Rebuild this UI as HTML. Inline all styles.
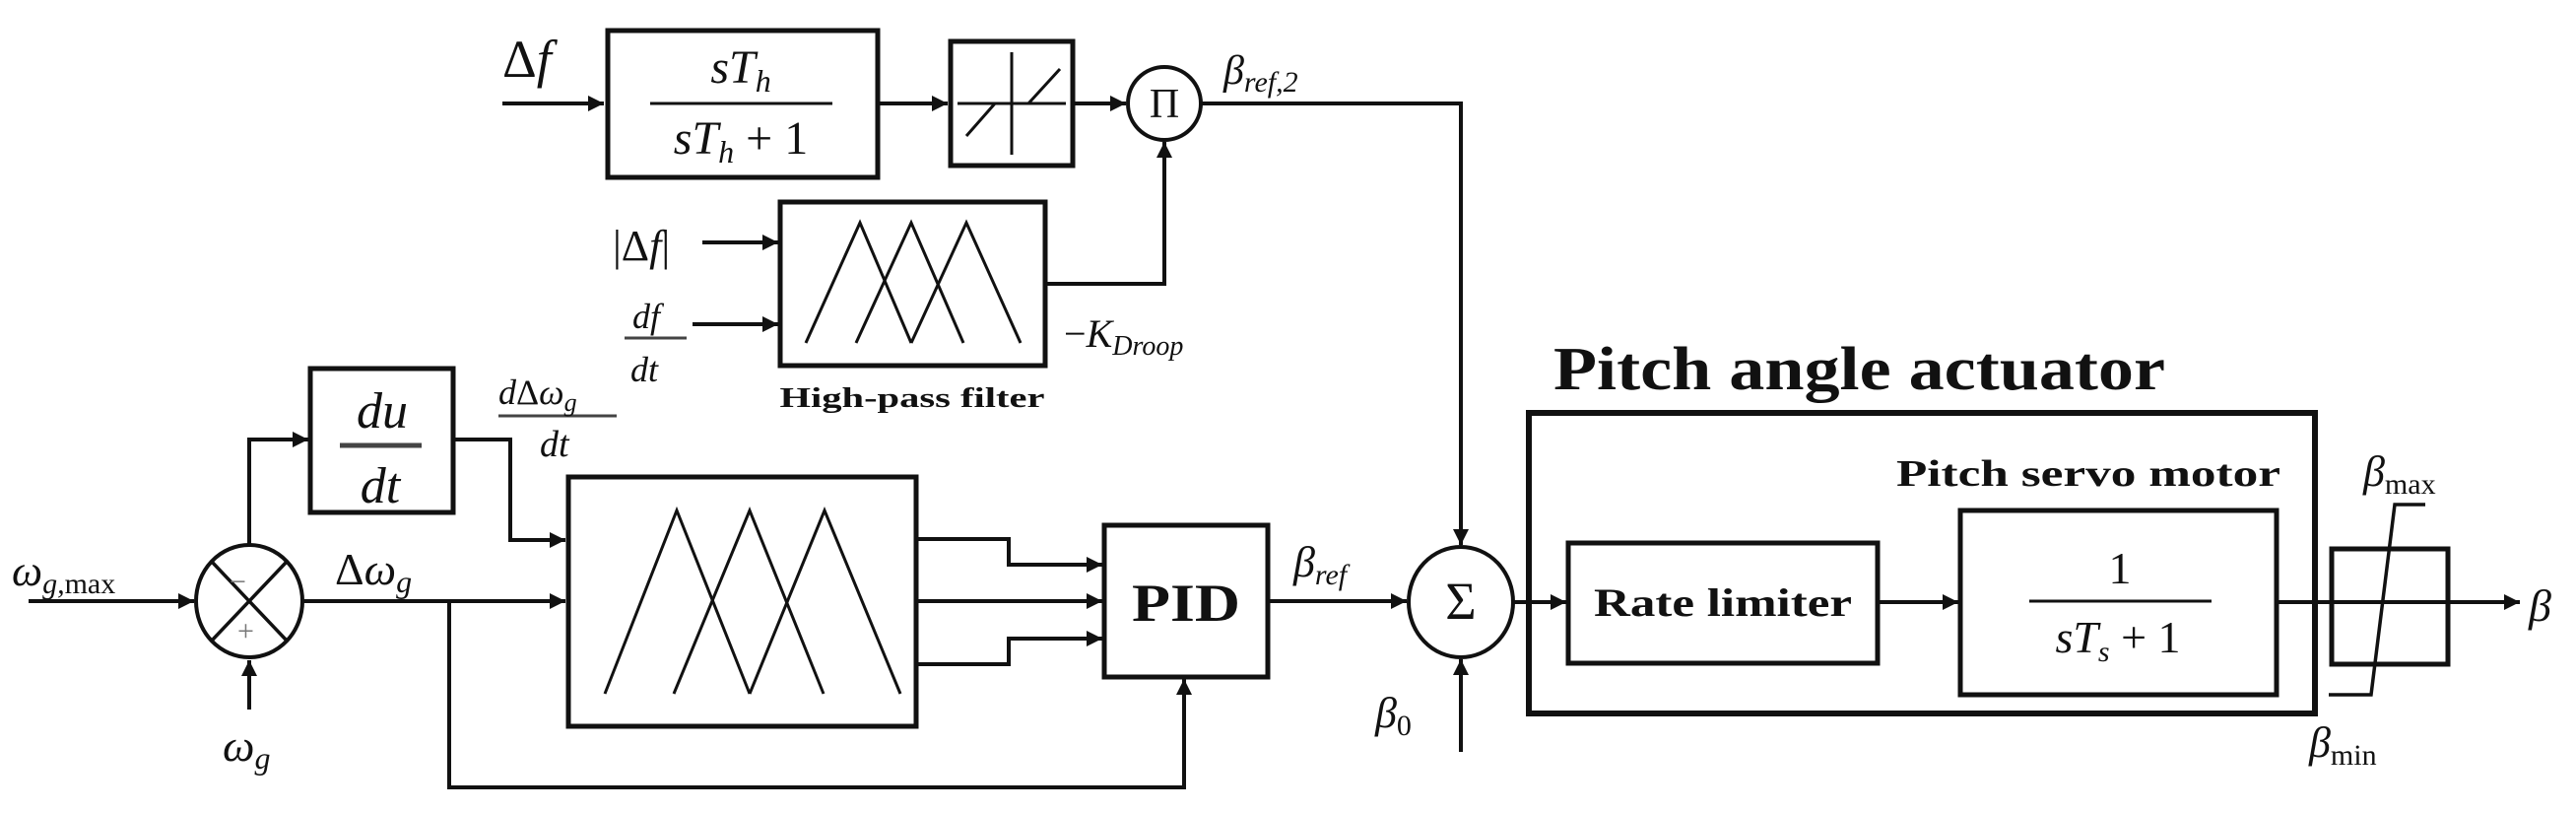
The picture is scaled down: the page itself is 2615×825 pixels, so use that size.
<!DOCTYPE html>
<html><head><meta charset="utf-8"><style>
html,body{margin:0;padding:0;background:#fff;}
svg{display:block}
.m{font-family:"Liberation Serif",serif;font-style:italic;fill:#111}
.r{font-family:"Liberation Serif",serif;fill:#111}
.b{font-family:"Liberation Serif",serif;font-weight:bold;fill:#111}
</style></head><body>
<svg width="2615" height="825" viewBox="0 0 2615 825" xmlns="http://www.w3.org/2000/svg">
<defs>
<marker id="a" viewBox="0 0 10 10" refX="10" refY="5" markerWidth="16" markerHeight="16" markerUnits="userSpaceOnUse" orient="auto"><path d="M0,0 L10,5 L0,10 Z" fill="#111"/></marker>
</defs>
<g stroke="#111" stroke-width="4" fill="none">
<line x1="510" y1="105" x2="613" y2="105" marker-end="url(#a)"/>
<rect x="617" y="31" width="274" height="149" stroke-width="5"/>
<line x1="891" y1="105" x2="962" y2="105" marker-end="url(#a)"/>
<rect x="965" y="42" width="124" height="126" stroke-width="5"/>
<line x1="972" y1="105" x2="1082" y2="105" stroke-width="3"/>
<line x1="1027" y1="53" x2="1027" y2="157" stroke-width="3"/>
<line x1="981" y1="138" x2="1010" y2="105" stroke-width="3"/>
<line x1="1044" y1="105" x2="1076" y2="70" stroke-width="3"/>
<line x1="1089" y1="105" x2="1143" y2="105" marker-end="url(#a)"/>
<ellipse cx="1182" cy="105" rx="37" ry="37"/>
<polyline points="1219,105 1483,105 1483,553" marker-end="url(#a)"/>
<rect x="792" y="205" width="269" height="166" stroke-width="5"/>
<polyline points="818,348 873,226 925,348" stroke-width="3"/>
<polyline points="869,348 925,226 978,348" stroke-width="3"/>
<polyline points="925,348 981,226 1036,348" stroke-width="3"/>
<line x1="713" y1="246" x2="790" y2="246" marker-end="url(#a)"/>
<line x1="703" y1="329" x2="790" y2="329" marker-end="url(#a)"/>
<polyline points="1061,288 1182,288 1182,144" marker-end="url(#a)"/>
<line x1="29" y1="610" x2="197" y2="610" marker-end="url(#a)"/>
<ellipse cx="253" cy="610" rx="54" ry="57"/>
<line x1="215" y1="570" x2="291" y2="650" stroke-width="3.5"/>
<line x1="291" y1="570" x2="215" y2="650" stroke-width="3.5"/>
<line x1="253" y1="720" x2="253" y2="670" marker-end="url(#a)"/>
<polyline points="253,553 253,446 313,446" marker-end="url(#a)"/>
<rect x="315" y="374" width="145" height="146" stroke-width="5"/>
<line x1="345" y1="452" x2="428" y2="452" stroke="#444" stroke-width="5"/>
<polyline points="460,446 518,446 518,548 574,548" marker-end="url(#a)"/>
<line x1="307" y1="610" x2="574" y2="610" marker-end="url(#a)"/>
<polyline points="456,610 456,799 1202,799 1202,689" marker-end="url(#a)"/>
<rect x="577" y="484" width="353" height="253" stroke-width="5"/>
<polyline points="614,704 687,518 761,704" stroke-width="3"/>
<polyline points="684,704 761,518 836,704" stroke-width="3"/>
<polyline points="761,704 837,518 914,704" stroke-width="3"/>
<polyline points="930,547 1024,547 1024,573 1119,573" marker-end="url(#a)"/>
<line x1="930" y1="610" x2="1119" y2="610" marker-end="url(#a)"/>
<polyline points="930,674 1024,674 1024,648 1119,648" marker-end="url(#a)"/>
<rect x="1121" y="533" width="166" height="154" stroke-width="5"/>
<line x1="1287" y1="610" x2="1428" y2="610" marker-end="url(#a)"/>
<ellipse cx="1483" cy="611" rx="53" ry="56"/>
<line x1="1483" y1="763" x2="1483" y2="669" marker-end="url(#a)"/>
<line x1="1536" y1="611" x2="1590" y2="611" marker-end="url(#a)"/>
<rect x="1552" y="419" width="798" height="305" stroke-width="6"/>
<rect x="1592" y="551" width="314" height="122" stroke-width="5"/>
<line x1="1906" y1="611" x2="1988" y2="611" marker-end="url(#a)"/>
<rect x="1990" y="518" width="321" height="187" stroke-width="5"/>
<line x1="2060" y1="610" x2="2245" y2="610" stroke-width="3"/>
<line x1="2311" y1="611" x2="2558" y2="611" marker-end="url(#a)"/>
<rect x="2367" y="557" width="118" height="117" stroke-width="5"/>
<polyline points="2364,705 2407,705 2431,512 2462,512" stroke-width="3.5"/>
</g>
<line x1="660" y1="105" x2="845" y2="105" stroke="#111" stroke-width="3"/>
<line x1="506" y1="422" x2="626" y2="422" stroke="#444" stroke-width="3"/>
<line x1="634" y1="343" x2="697" y2="343" stroke="#444" stroke-width="3"/>
<text x="510" y="78" class="m" font-size="54"><tspan class="r" font-style="normal">Δ</tspan>f</text>
<text x="752" y="84" class="m" font-size="48" text-anchor="middle">sT<tspan font-size="32" dy="9">h</tspan></text>
<text x="752" y="156" class="m" font-size="48" text-anchor="middle">sT<tspan font-size="32" dy="9">h</tspan><tspan class="r" font-style="normal" dy="-9" font-size="48"> + 1</tspan></text>
<text x="1182" y="119" class="r" font-size="42" text-anchor="middle">Π</text>
<text x="1242" y="85" class="m" font-size="42">β<tspan font-size="30" dy="8">ref,2</tspan></text>
<text x="622" y="264" class="m" font-size="44"><tspan class="r" font-style="normal">|Δ</tspan>f<tspan class="r" font-style="normal">|</tspan></text>
<text x="642" y="333" class="m" font-size="36">df</text>
<text x="640" y="387" class="m" font-size="36">dt</text>
<text x="1080" y="352" class="m" font-size="40"><tspan class="r" font-style="normal">−</tspan>K<tspan font-size="28" dy="8">Droop</tspan></text>
<text x="926" y="413" class="b" font-size="28" text-anchor="middle" textLength="269" lengthAdjust="spacingAndGlyphs">High-pass filter</text>
<text x="388" y="434" class="m" font-size="52" text-anchor="middle">du</text>
<text x="386" y="510" class="m" font-size="52" text-anchor="middle">dt</text>
<text x="506" y="410" class="m" font-size="36">d<tspan class="r" font-style="normal">Δ</tspan>ω<tspan font-size="26" dy="7">g</tspan></text>
<text x="548" y="463" class="m" font-size="38">dt</text>
<text x="12" y="594" class="m" font-size="44">ω<tspan font-size="30" dy="8">g,</tspan><tspan class="r" font-style="normal" font-size="30">max</tspan></text>
<text x="340" y="593" class="m" font-size="46"><tspan class="r" font-style="normal">Δ</tspan>ω<tspan font-size="32" dy="8">g</tspan></text>
<text x="226" y="772" class="m" font-size="46">ω<tspan font-size="32" dy="8">g</tspan></text>
<text x="233" y="600" class="r" font-size="30" style="fill:#777">−</text>
<text x="241" y="650" class="r" font-size="30" style="fill:#777">+</text>
<text x="1204" y="630" class="b" font-size="54" text-anchor="middle" textLength="110" lengthAdjust="spacingAndGlyphs">PID</text>
<text x="1313" y="585" class="m" font-size="44">β<tspan font-size="30" dy="8">ref</tspan></text>
<text x="1483" y="628" class="r" font-size="54" text-anchor="middle">Σ</text>
<text x="1396" y="738" class="m" font-size="44">β<tspan class="r" font-style="normal" font-size="30" dy="8">0</tspan></text>
<text x="1577" y="395" class="b" font-size="62" textLength="621" lengthAdjust="spacingAndGlyphs">Pitch angle actuator</text>
<text x="1925" y="493" class="b" font-size="38" textLength="390" lengthAdjust="spacingAndGlyphs">Pitch servo motor</text>
<text x="1749" y="625" class="b" font-size="40" text-anchor="middle" textLength="262" lengthAdjust="spacingAndGlyphs">Rate limiter</text>
<text x="2152" y="592" class="r" font-size="46" text-anchor="middle">1</text>
<text x="2150" y="662" class="m" font-size="46" text-anchor="middle">sT<tspan font-size="30" dy="9">s</tspan><tspan class="r" font-style="normal" font-size="46" dy="-9"> + 1</tspan></text>
<text x="2567" y="630" class="m" font-size="46">β</text>
<text x="2399" y="493" class="m" font-size="44">β<tspan class="r" font-style="normal" font-size="30" dy="8">max</tspan></text>
<text x="2344" y="768" class="m" font-size="44">β<tspan class="r" font-style="normal" font-size="30" dy="8">min</tspan></text>
</svg>
</body></html>
